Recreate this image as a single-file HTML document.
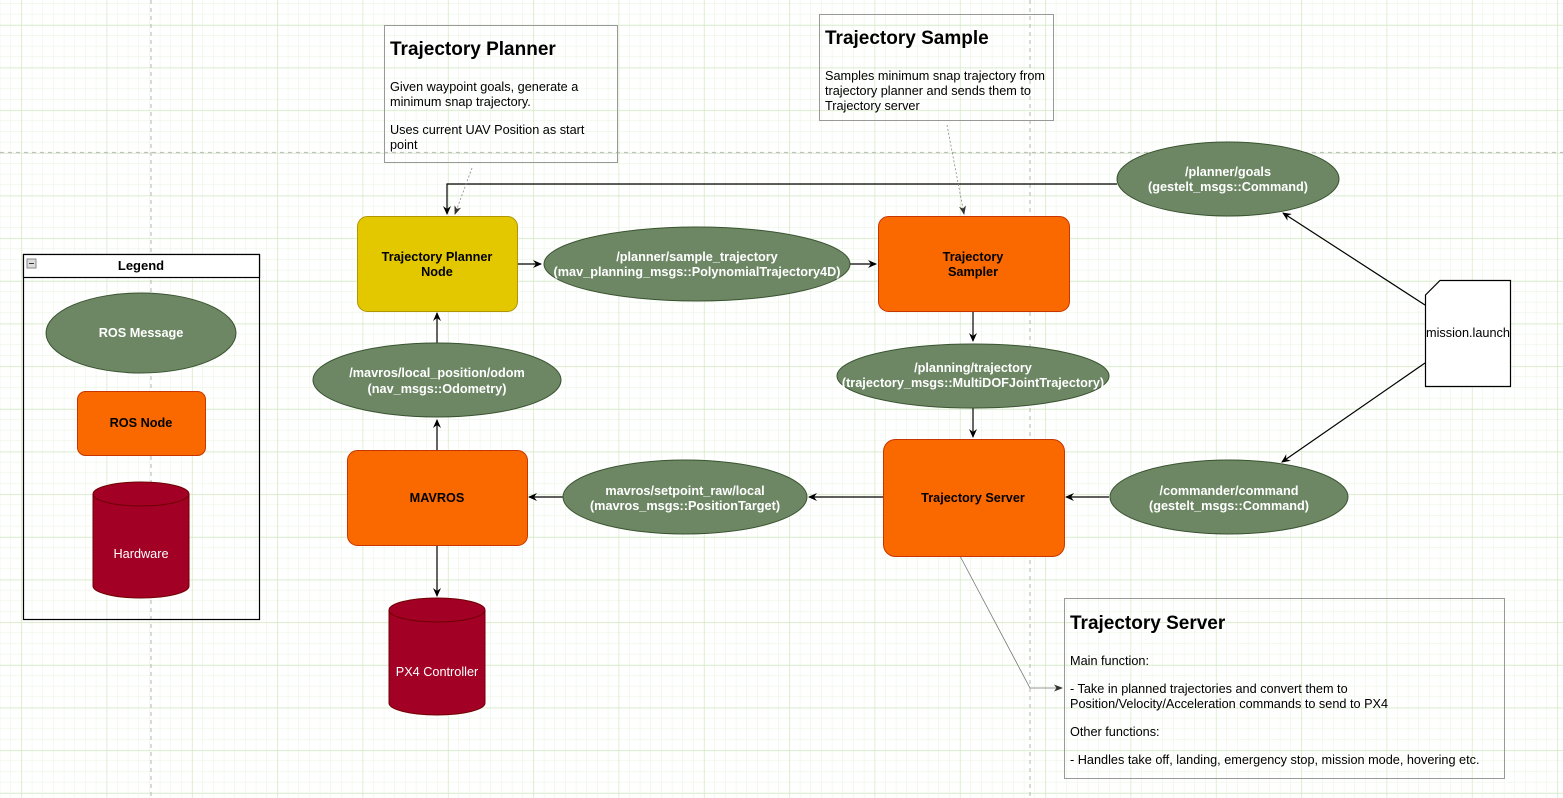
<!DOCTYPE html>
<html><head><meta charset="utf-8"><style>
html,body{margin:0;padding:0;background:#fff;}
svg{display:block;font-family:"Liberation Sans",sans-serif;}
</style></head><body>
<svg width="1563" height="798" viewBox="0 0 1563 798" xmlns="http://www.w3.org/2000/svg">
<defs>
<pattern id="minor" x="0.3" y="3.7" width="10.667" height="10.667" patternUnits="userSpaceOnUse">
<path d="M10.667 0V10.667M0 10.667H10.667" stroke="#e8f3e0" stroke-width="1" fill="none"/></pattern>
<pattern id="majv" x="21.3" y="0" width="85.33" height="10" patternUnits="userSpaceOnUse">
<path d="M0 0V10" stroke="#cfe6c0" stroke-width="1.2"/></pattern>
<pattern id="majh" x="0" y="25" width="10" height="42.67" patternUnits="userSpaceOnUse">
<path d="M0 0H10" stroke="#cfe6c0" stroke-width="1.2"/></pattern>
<marker id="ar" markerWidth="10" markerHeight="10" refX="8" refY="5" orient="auto" markerUnits="userSpaceOnUse">
<path d="M0 1L9 5L0 9L3 5Z" fill="#000"/></marker>
<marker id="ar2" markerWidth="10" markerHeight="10" refX="8" refY="5" orient="auto" markerUnits="userSpaceOnUse">
<path d="M0 1.5L9 5L0 8.5L2.5 5Z" fill="#333"/></marker>
</defs>
<rect width="1563" height="798" fill="#fff"/>
<rect width="1563" height="798" fill="url(#minor)"/>
<rect width="1563" height="798" fill="url(#majv)"/>
<rect width="1563" height="798" fill="url(#majh)"/>
<g stroke="#c0c0c0" stroke-width="1.2" stroke-dasharray="4,4">
<path d="M151 0V798M1030 0V798M0 152.5H1563"/></g>

<g stroke="#999" fill="none"><rect x="384.5" y="25.5" width="233" height="137"/>
<rect x="819.5" y="14.5" width="234" height="106"/>
<rect x="1064.5" y="598.5" width="440" height="180"/></g>
<g fill="#000">
<text x="390" y="55" font-size="19" font-weight="bold">Trajectory Planner</text>
<text x="390" y="91" font-size="12.7">Given waypoint goals, generate a</text>
<text x="390" y="106" font-size="12.7">minimum snap trajectory.</text>
<text x="390" y="134" font-size="12.7">Uses current UAV Position as start</text>
<text x="390" y="149" font-size="12.7">point</text>
<text x="825" y="44" font-size="19" font-weight="bold">Trajectory Sample</text>
<text x="825" y="80" font-size="12.7">Samples minimum snap trajectory from</text>
<text x="825" y="95" font-size="12.7">trajectory planner and sends them to</text>
<text x="825" y="110" font-size="12.7">Trajectory server</text>
<text x="1070" y="629" font-size="19" font-weight="bold">Trajectory Server</text>
<text x="1070" y="665" font-size="12.7">Main function:</text>
<text x="1070" y="693" font-size="12.7">- Take in planned trajectories and convert them to</text>
<text x="1070" y="708" font-size="12.7">Position/Velocity/Acceleration commands to send to PX4</text>
<text x="1070" y="736" font-size="12.7">Other functions:</text>
<text x="1070" y="764" font-size="12.7">- Handles take off, landing, emergency stop, mission mode, hovering etc.</text>
</g>

<rect x="23.5" y="254.5" width="236" height="365" fill="none" stroke="#000" stroke-width="1.2"/>
<rect x="23.5" y="254.5" width="236" height="23" fill="#fff" stroke="#000" stroke-width="1.2"/>
<rect x="27" y="259" width="9" height="9" fill="#ddd" stroke="#888"/><path d="M29 263.5H34" stroke="#333"/>
<text x="141" y="270" font-size="13" font-weight="bold" text-anchor="middle">Legend</text>
<ellipse cx="141" cy="333" rx="95" ry="40" fill="#6d8764" stroke="#3a5431"/>
<text x="141" y="337" font-size="12.7" font-weight="bold" fill="#fff" text-anchor="middle">ROS Message</text>
<rect x="77.5" y="391.5" width="128" height="64" rx="8" fill="#fa6800" stroke="#c73500"/>
<text x="141" y="427" font-size="12.7" font-weight="bold" fill="#000" text-anchor="middle">ROS Node</text>
<path d="M93 494V586A48 12 0 0 0 189 586V494" fill="#a20025" stroke="#6f0000"/>
<ellipse cx="141" cy="494" rx="48" ry="12" fill="#a20025" stroke="#6f0000"/>
<text x="141" y="558" font-size="12.7" fill="#fff" text-anchor="middle">Hardware</text>

<g stroke="#000" stroke-width="1.2" fill="none">
<path d="M1117 184H447V214" marker-end="url(#ar)"/>
<path d="M517 264H541" marker-end="url(#ar)"/>
<path d="M850 264H876" marker-end="url(#ar)"/>
<path d="M973 311V341" marker-end="url(#ar)"/>
<path d="M973 408V437" marker-end="url(#ar)"/>
<path d="M1109 497H1066" marker-end="url(#ar)"/>
<path d="M883 497H809" marker-end="url(#ar)"/>
<path d="M563 497H529" marker-end="url(#ar)"/>
<path d="M437 450V420" marker-end="url(#ar)"/>
<path d="M437 343V313" marker-end="url(#ar)"/>
<path d="M437 545V596" marker-end="url(#ar)"/>
<path d="M1425 305L1283 213" marker-end="url(#ar)"/>
<path d="M1425 363L1282 462" marker-end="url(#ar)"/>
</g>
<g stroke="#888" stroke-width="0.8" fill="none" stroke-dasharray="2,2">
<path d="M472 168L455 214" marker-end="url(#ar2)"/>
<path d="M947 125L964 214" marker-end="url(#ar2)"/>
</g>
<path d="M960 556L1030 688H1062" stroke="#777" stroke-width="0.8" fill="none" marker-end="url(#ar2)"/>

<rect x="357.5" y="216.5" width="160" height="95" rx="10" fill="#e3c800" stroke="#b09500"/>
<text x="437" y="261" font-size="12.7" font-weight="bold" text-anchor="middle">Trajectory Planner</text>
<text x="437" y="276" font-size="12.7" font-weight="bold" text-anchor="middle">Node</text>
<rect x="878.5" y="216.5" width="191" height="95" rx="10" fill="#fa6800" stroke="#c73500"/>
<text x="973" y="261" font-size="12.7" font-weight="bold" text-anchor="middle">Trajectory</text>
<text x="973" y="276" font-size="12.7" font-weight="bold" text-anchor="middle">Sampler</text>
<rect x="883.5" y="439.5" width="181" height="117" rx="12" fill="#fa6800" stroke="#c73500"/>
<text x="973" y="502" font-size="12.7" font-weight="bold" text-anchor="middle">Trajectory Server</text>
<rect x="347.5" y="450.5" width="180" height="95" rx="10" fill="#fa6800" stroke="#c73500"/>
<text x="437" y="502" font-size="12.7" font-weight="bold" text-anchor="middle">MAVROS</text>
<path d="M389 610V703A48 12 0 0 0 485 703V610" fill="#a20025" stroke="#6f0000"/>
<ellipse cx="437" cy="610" rx="48" ry="12" fill="#a20025" stroke="#6f0000"/>
<text x="437" y="676" font-size="12.7" fill="#fff" text-anchor="middle">PX4 Controller</text>
<path d="M1440 280.5H1510.5V386.5H1425.5V295Z" fill="#fff" stroke="#000" stroke-width="1.2"/>
<text x="1468" y="337" font-size="12.7" text-anchor="middle">mission.launch</text>

<g fill="#6d8764" stroke="#3a5431">
<ellipse cx="697" cy="264" rx="153" ry="37"/>
<ellipse cx="1228" cy="179" rx="111" ry="37"/>
<ellipse cx="973" cy="376" rx="136" ry="32"/>
<ellipse cx="1229" cy="497" rx="119" ry="37"/>
<ellipse cx="685" cy="497" rx="122" ry="37"/>
<ellipse cx="437" cy="380" rx="124" ry="37"/>
</g>
<g fill="#fff" font-size="12.7" font-weight="bold" text-anchor="middle">
<text x="697" y="261">/planner/sample_trajectory</text>
<text x="697" y="276">(mav_planning_msgs::PolynomialTrajectory4D)</text>
<text x="1228" y="176">/planner/goals</text>
<text x="1228" y="191">(gestelt_msgs::Command)</text>
<text x="973" y="372">/planning/trajectory</text>
<text x="973" y="387">(trajectory_msgs::MultiDOFJointTrajectory)</text>
<text x="1229" y="495">/commander/command</text>
<text x="1229" y="510">(gestelt_msgs::Command)</text>
<text x="685" y="495">mavros/setpoint_raw/local</text>
<text x="685" y="510">(mavros_msgs::PositionTarget)</text>
<text x="437" y="377">/mavros/local_position/odom</text>
<text x="437" y="393">(nav_msgs::Odometry)</text>
</g>
</svg>
</body></html>
